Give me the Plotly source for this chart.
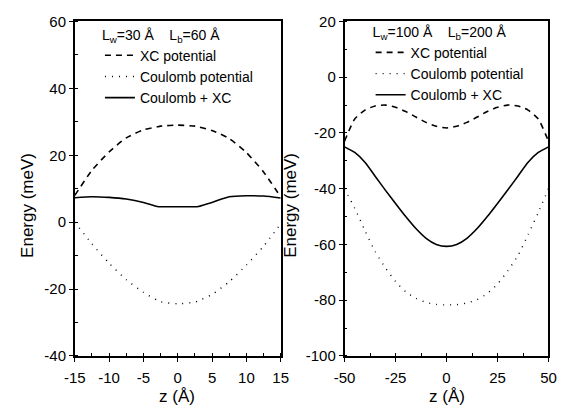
import plotly.graph_objects as go
from plotly.subplots import make_subplots

# Well Lw=30 Å, barrier Lb=60 Å
z_a = [-15, -12.5, -10, -7.5, -5, -3, -2.5, 0, 2.5, 3, 5, 7.5, 10, 12.5, 15]
xc_a = [8.0, 15.5, 21.0, 25.2, 27.6, 28.5, 28.7, 29.0, 28.7, 28.5, 27.4, 25.0, 20.8, 15.0, 7.5]
coul_a = [0.0, -6.5, -12.3, -17.2, -21.0, -23.3, -23.8, -24.4, -23.9, -23.5, -21.6, -17.8, -12.8, -7.2, -0.5]
tot_a = [7.3, 7.6, 7.4, 6.9, 5.9, 4.7, 4.6, 4.6, 4.6, 4.7, 5.9, 7.6, 7.9, 7.8, 7.2]

# Well Lw=100 Å, barrier Lb=200 Å
z_b = [-50, -45, -40, -35, -30, -25, -20, -15, -10, -5, 0, 5, 10, 15, 20, 25, 30, 35, 40, 45, 50]
xc_b = [-23.0, -15.0, -11.8, -10.3, -10.0, -10.8, -12.3, -14.3, -16.2, -17.6, -18.2, -17.6, -16.2, -14.3, -12.3, -10.8, -10.0, -10.3, -11.8, -15.0, -23.0]
coul_b = [-40.0, -47.0, -55.0, -62.5, -68.3, -73.3, -77.0, -79.3, -80.8, -81.5, -81.7, -81.6, -81.0, -79.8, -77.6, -74.2, -69.5, -64.0, -56.5, -48.5, -40.0]
tot_b = [-25.0, -27.0, -30.5, -35.5, -40.5, -45.3, -50.0, -54.3, -57.8, -60.0, -60.7, -60.0, -57.8, -54.3, -50.0, -45.3, -40.5, -35.5, -30.5, -27.0, -25.0]

# Tick values and labels (plain hyphen for negatives)
xt_a = [-15, -10, -5, 0, 5, 10, 15]
xt_b = [-50, -25, 0, 25, 50]
yt_a = [-40, -20, 0, 20, 40, 60]
yt_b = [-100, -80, -60, -40, -20, 0, 20]


def labels(vals):
    return [str(v) for v in vals]


series_names = ["XC potential", "Coulomb potential", "Coulomb + XC"]
dash_styles = ["6px,5px", "1px,6px", "solid"]

FONT = "Liberation Sans, Arial, sans-serif"

fig = make_subplots(rows=1, cols=2)

panels = [
    (1, "legend", z_a, [xc_a, coul_a, tot_a]),
    (2, "legend2", z_b, [xc_b, coul_b, tot_b]),
]
for col, leg, zz, ys in panels:
    for name, dash, y in zip(series_names, dash_styles, ys):
        fig.add_trace(
            go.Scatter(
                x=zz, y=y, mode="lines", name=name, legend=leg,
                line=dict(color="black", width=1.6 if dash != "1px,6px" else 1.4,
                          dash=dash, shape="spline", smoothing=0.6),
            ),
            row=1, col=col,
        )

axis_common = dict(
    showline=True, linecolor="black", linewidth=1.5, mirror=True,
    ticks="outside", ticklen=4, tickwidth=1.2, tickcolor="black",
    showgrid=False, zeroline=False,
    tickfont=dict(family=FONT, size=15, color="black"),
)

fig.update_xaxes(axis_common)
fig.update_yaxes(axis_common)

fig.update_xaxes(row=1, col=1, range=[-15, 15], tickvals=xt_a, ticktext=labels(xt_a),
                 domain=[66 / 571, 279 / 571], ticklabelstandoff=3,
                 minor=dict(dtick=2.5, tick0=-15, ticks="inside", ticklen=3, tickcolor="black"))
fig.update_xaxes(row=1, col=2, range=[-50, 50], tickvals=xt_b, ticktext=labels(xt_b),
                 domain=[345 / 571, 556 / 571], ticklabelstandoff=3,
                 minor=dict(dtick=12.5, tick0=-50, ticks="inside", ticklen=3, tickcolor="black"))
fig.update_yaxes(row=1, col=1, range=[-40, 60], tickvals=yt_a, ticktext=labels(yt_a),
                 domain=[1 - 362 / 409, 1 - 13 / 409],
                 minor=dict(dtick=10, tick0=-40, ticks="inside", ticklen=3, tickcolor="black"))
fig.update_yaxes(row=1, col=2, range=[-100, 20], tickvals=yt_b, ticktext=labels(yt_b),
                 domain=[1 - 362 / 409, 1 - 13 / 409],
                 minor=dict(dtick=10, tick0=-100, ticks="inside", ticklen=3, tickcolor="black"))

title_font = dict(family=FONT, size=17, color="black")
annotations = [
    dict(text="z (Å)", x=172 / 571, y=1 - 396 / 409, xref="paper", yref="paper",
         showarrow=False, font=title_font, xanchor="center", yanchor="middle", yshift=-8),
    dict(text="z (Å)", x=451 / 571, y=1 - 396 / 409, xref="paper", yref="paper",
         showarrow=False, font=title_font, xanchor="center", yanchor="middle", yshift=-8),
    dict(text="Energy (meV)", x=17 / 571, y=1 - 205 / 409, xref="paper", yref="paper",
         showarrow=False, font=title_font, textangle=-90, xanchor="center", yanchor="middle"),
    dict(text="Energy (meV)", x=289 / 571, y=1 - 205 / 409, xref="paper", yref="paper",
         showarrow=False, font=title_font, textangle=-90, xanchor="center", yanchor="middle"),
]

legend_common = dict(
    bgcolor="rgba(0,0,0,0)", borderwidth=0, tracegroupgap=0,
    font=dict(family=FONT, size=14, color="black"),
    itemwidth=30, xanchor="left", yanchor="top",
)

fig.update_layout(
    width=571, height=409,
    margin=dict(l=0, r=0, t=0, b=0),
    paper_bgcolor="white", plot_bgcolor="white",
    showlegend=True,
    annotations=annotations,
    legend=dict(legend_common, x=92 / 571, y=1 - 13 / 409,
                title=dict(text="L<sub>w</sub>=30 Å    L<sub>b</sub>=60 Å",
                           font=dict(family=FONT, size=14, color="black"))),
    legend2=dict(legend_common, x=372 / 571, y=1 - 10 / 409,
                 title=dict(text="L<sub>w</sub>=100 Å    L<sub>b</sub>=200 Å",
                            font=dict(family=FONT, size=14, color="black"))),
)

fig.write_html("out.html")
